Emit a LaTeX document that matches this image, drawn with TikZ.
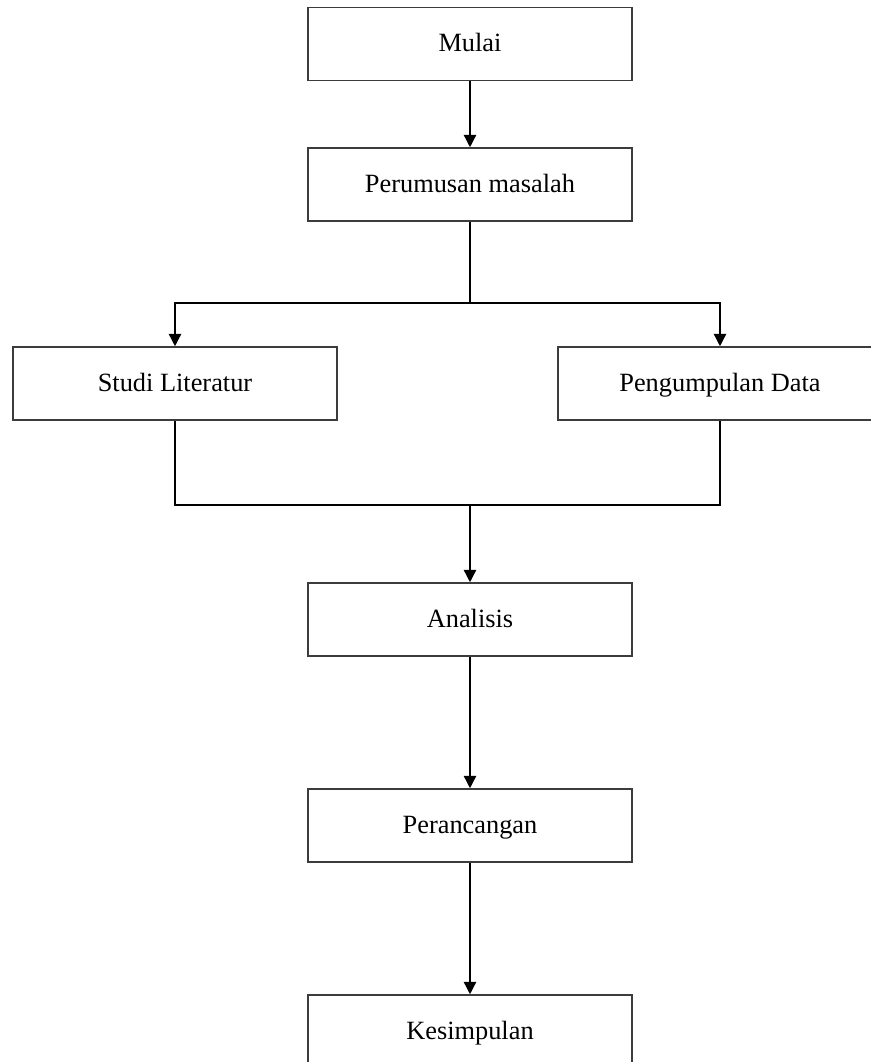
\documentclass[tikz,border=0pt]{standalone}
\usepackage{fontspec}
\setmainfont{Liberation Serif}
\usepackage{tikz}
\usetikzlibrary{arrows,arrows.meta,positioning}
\usepackage{xcolor}
\definecolor{boxline}{RGB}{60,60,60}
\tikzstyle{stepbox} = [draw=boxline, line width=0.9pt, rectangle, minimum width=6.48cm, minimum height=1.46cm, inner sep=0pt, text height=11.5pt, text depth=2.5pt, font=\fontsize{15}{18}\selectfont]
\tikzstyle{arrow} = [line width=0.8pt, -{Triangle[length=7pt,width=7pt]}, color=black]
\tikzstyle{line} = [line width=0.8pt, color=black]

\begin{document}
\begin{tikzpicture}[x=0.02cm, y=-0.02cm]
\useasboundingbox (0,0) rectangle (870,1062);
% Alur penelitian
\node[stepbox] (mulai) at (470,44) {Mulai};
\node[stepbox] (rumusan) at (470,184.5) {Perumusan masalah};
\node[stepbox] (studi) at (175,383.5) {Studi Literatur};
\node[stepbox] (data) at (720,383.5) {Pengumpulan Data};
\node[stepbox] (analisis) at (470,619.5) {Analisis};
\node[stepbox] (rancang) at (470,825.5) {Perancangan};
\node[stepbox] (simpul) at (470,1031.5) {Kesimpulan};

\coordinate (split) at (470,303);
\coordinate (merge) at (470,505);

\draw[arrow] (mulai) -- (rumusan);

% Cabang ke dua kegiatan
\draw[line] (rumusan.south) -- (split);
\draw[arrow] (split) -| (studi.north);
\draw[arrow] (split) -| (data.north);

% Gabung lagi ke analisis
\draw[line] (studi.south) |- (merge);
\draw[line] (data.south) |- (merge);
\draw[arrow] (merge) -- (analisis.north);

\draw[arrow] (analisis) -- (rancang);
\draw[arrow] (rancang) -- (simpul);
\end{tikzpicture}
\end{document}
